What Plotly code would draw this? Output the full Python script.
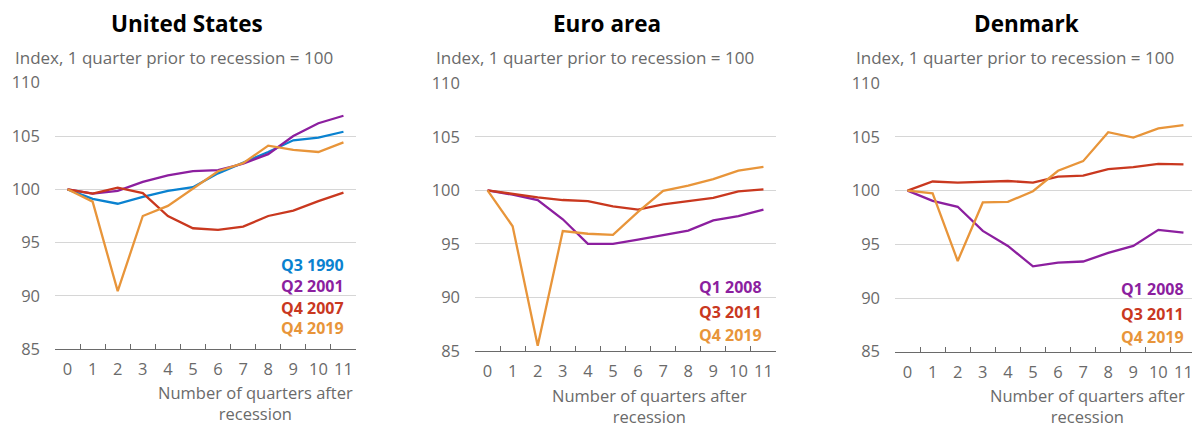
import plotly.graph_objects as go

# ---------------- data ----------------
quarters = [str(i) for i in range(12)]

us_labels = ["Q3 1990", "Q2 2001", "Q4 2007", "Q4 2019"]
us_q3_1990 = [100, 99.1, 98.65, 99.3, 99.85, 100.2, 101.5, 102.5, 103.5, 104.6, 104.85, 105.4]
us_q2_2001 = [100, 99.6, 99.85, 100.7, 101.3, 101.7, 101.8, 102.4, 103.3, 105.0, 106.2, 106.9]
us_q4_2007 = [100, 99.6, 100.15, 99.65, 97.5, 96.35, 96.2, 96.5, 97.5, 98.0, 98.9, 99.7]
us_q4_2019 = [100, 98.85, 90.45, 97.5, 98.45, 100.05, 101.7, 102.45, 104.1, 103.7, 103.5, 104.4]

ea_labels = ["Q1 2008", "Q3 2011", "Q4 2019"]
ea_q1_2008 = [100, 99.6, 99.1, 97.3, 95.0, 95.0, 95.4, 95.8, 96.25, 97.2, 97.6, 98.2]
ea_q3_2011 = [100, 99.65, 99.35, 99.1, 99.0, 98.5, 98.2, 98.7, 99.0, 99.3, 99.9, 100.1]
ea_q4_2019 = [100, 96.65, 85.5, 96.2, 95.95, 95.85, 98.0, 99.95, 100.45, 101.05, 101.85, 102.2]

dk_labels = ["Q1 2008", "Q3 2011", "Q4 2019"]
dk_q1_2008 = [100, 99.05, 98.5, 96.25, 94.85, 92.95, 93.3, 93.4, 94.2, 94.85, 96.35, 96.1]
dk_q3_2011 = [100, 100.85, 100.75, 100.8, 100.9, 100.75, 101.3, 101.4, 102.0, 102.2, 102.5, 102.45]
dk_q4_2019 = [100, 99.75, 93.45, 98.9, 98.95, 99.95, 101.85, 102.75, 105.45, 104.95, 105.8, 106.1]

y_ticks = [85, 90, 95, 100, 105, 110]
panel_titles = ["United States", "Euro area", "Denmark"]
subtitle = "Index, 1 quarter prior to recession = 100"
x_title = "Number of quarters after<br>recession"

# ---------------- styling ----------------
BLUE = "#0a82d0"
PURPLE = "#8c1f9f"
RED = "#c9381f"
ORANGE = "#e8953a"
GRAY = "#6a6a6a"
FONT = "Open Sans"

OFF = 8  # page body margin
W, H = 1200 - OFF, 430 - OFF


def px(x):
    return (x - OFF) / W


def py(y):
    return 1 - (y - OFF) / H


panels = [
    dict(title=panel_titles[0], xdom=(55, 356), ydom=(82.7, 349.3), title_x=187, sub_x=12.7,
         series=[(us_labels[0], us_q3_1990, BLUE), (us_labels[1], us_q2_2001, PURPLE),
                 (us_labels[2], us_q4_2007, RED), (us_labels[3], us_q4_2019, ORANGE)],
         leg_right=346, leg_y=[265, 285.5, 307.5, 328], xt=(255.5, 403)),
    dict(title=panel_titles[1], xdom=(475, 776), ydom=(83.3, 351), title_x=606.7, sub_x=434,
         series=[(ea_labels[0], ea_q1_2008, PURPLE), (ea_labels[1], ea_q3_2011, RED),
                 (ea_labels[2], ea_q4_2019, ORANGE)],
         leg_right=763.5, leg_y=[287, 311.5, 335], xt=(649, 406)),
    dict(title=panel_titles[2], xdom=(895, 1196), ydom=(83.3, 351.7), title_x=1026.7, sub_x=854,
         series=[(dk_labels[0], dk_q1_2008, PURPLE), (dk_labels[1], dk_q3_2011, RED),
                 (dk_labels[2], dk_q4_2019, ORANGE)],
         leg_right=1186, leg_y=[289, 314, 336.5], xt=(1087, 406)),
]

fig = go.Figure()
annotations = []
layout = {}

for i, p in enumerate(panels):
    n = "" if i == 0 else str(i + 1)
    for name, vals, col in p["series"]:
        fig.add_trace(go.Scatter(
            x=quarters, y=vals, mode="lines", name=name,
            line=dict(color=col, width=2.3),
            xaxis="x" + n, yaxis="y" + n, showlegend=False,
        ))
    layout["xaxis" + n] = dict(
        domain=[px(p["xdom"][0]), px(p["xdom"][1])],
        anchor="y" + n, type="category", categoryorder="array", categoryarray=quarters,
        tickson="boundaries", ticks="inside", ticklen=5, tickcolor=GRAY, tickwidth=1,
        showline=True, linecolor=GRAY, linewidth=1, showgrid=False, zeroline=False,
        tickfont=dict(family=FONT, size=16.5, color=GRAY), ticklabelstandoff=5,
        tickangle=0, automargin=False,
        range=[-0.5, 11.5], fixedrange=True,
    )
    layout["yaxis" + n] = dict(
        domain=[py(p["ydom"][1]), py(p["ydom"][0])],
        anchor="x" + n, range=[85, 110], tickvals=y_ticks,
        showgrid=True, gridcolor="#d6d6d6", gridwidth=1, zeroline=False, showline=False,
        ticks="", tickfont=dict(family=FONT, size=16.5, color=GRAY), ticklabelstandoff=14,
        automargin=False, fixedrange=True,
    )
    annotations.append(dict(
        x=px(p["title_x"]), y=py(23.5), xref="paper", yref="paper", text="<b>%s</b>" % p["title"],
        showarrow=False, xanchor="center", yanchor="middle",
        font=dict(family=FONT, size=22.5, color="#000000"),
    ))
    annotations.append(dict(
        x=px(p["sub_x"]), y=py(57), xref="paper", yref="paper", text=subtitle,
        showarrow=False, xanchor="left", yanchor="middle",
        font=dict(family=FONT, size=17, color=GRAY),
    ))
    for (name, vals, col), yy in zip(p["series"], p["leg_y"]):
        annotations.append(dict(
            x=px(p["leg_right"]), y=py(yy), xref="paper", yref="paper", text="<b>%s</b>" % name,
            showarrow=False, xanchor="right", yanchor="middle",
            font=dict(family=FONT, size=16, color=col),
        ))
    annotations.append(dict(
        x=px(p["xt"][0]), y=py(p["xt"][1]), xref="paper", yref="paper", text=x_title,
        showarrow=False, xanchor="center", yanchor="middle", align="center",
        font=dict(family=FONT, size=16.5, color=GRAY),
    ))

fig.update_layout(
    template="none",
    width=W, height=H, margin=dict(l=0, r=0, t=0, b=0, pad=0),
    paper_bgcolor="white", plot_bgcolor="white",
    annotations=annotations, **layout,
)

fig.write_html("out.html")
